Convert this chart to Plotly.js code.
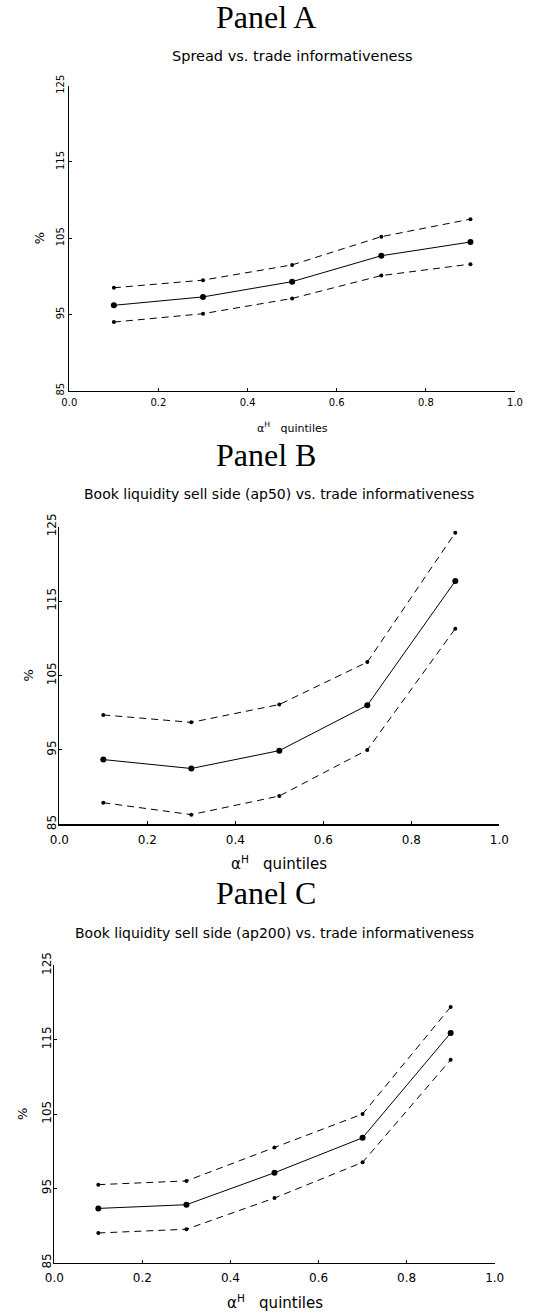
<!DOCTYPE html>
<html>
<head>
<meta charset="utf-8">
<script src="https://cdn.plot.ly/plotly-3.0.1.min.js"></script>
<style>html,body{margin:0;padding:0;background:#fff;}</style>
</head>
<body>
<div id="chart" style="width:539px;height:1313px;"></div>
<script>
// ---- data ----
var quintiles = [0.1, 0.3, 0.5, 0.7, 0.9];
var xTickVals = [0, 0.2, 0.4, 0.6, 0.8, 1.0];
var yTickVals = [85, 95, 105, 115, 125];

var panelTitles = ["Panel A", "Panel B", "Panel C"];
var subTitles = [
  "Spread vs. trade informativeness",
  "Book liquidity sell side (ap50) vs. trade informativeness",
  "Book liquidity sell side (ap200) vs. trade informativeness"
];

var spreadMid   = [96.2, 97.3, 99.3, 102.7, 104.5];
var spreadUpper = [98.5, 99.5, 101.5, 105.2, 107.5];
var spreadLower = [94.0, 95.1, 97.1, 100.1, 101.6];

var ap50Mid   = [93.7, 92.5, 94.9, 101.0, 117.7];
var ap50Upper = [99.7, 98.7, 101.1, 106.8, 124.2];
var ap50Lower = [87.9, 86.3, 88.8, 95.0, 111.3];

var ap200Mid   = [92.3, 92.8, 97.1, 101.8, 115.9];
var ap200Upper = [95.5, 96.0, 100.5, 105.0, 119.4];
var ap200Lower = [89.0, 89.5, 93.7, 98.5, 112.3];

var panelSeries = [
  [spreadMid, spreadUpper, spreadLower],
  [ap50Mid, ap50Upper, ap50Lower],
  [ap200Mid, ap200Upper, ap200Lower]
];

// ---- layout geometry (pixels) ----
var W = 539, H = 1313;
var boxes = [
  {l: 69.3, r: 515.0, t: 85.7,  b: 390.7, tickSize: 10, xStand: 2, yStand: 0,  titleY: 17,  subY: 56,  xtY: 427,  ylX: 39,  subSize: 14.5, xtSize: 11},
  {l: 59.3, r: 499.3, t: 526.7, b: 824.3, tickSize: 12, xStand: 4, yStand: -3, titleY: 455, subY: 494, xtY: 863,  ylX: 28,  subSize: 14,   xtSize: 15},
  {l: 54.3, r: 494.7, t: 965.3, b: 1262.7, tickSize: 12, xStand: 3, yStand: -3, titleY: 893, subY: 933, xtY: 1302, ylX: 22, subSize: 14,   xtSize: 15}
];

var sansFont = "DejaVu Sans, Liberation Sans, sans-serif";
var serifFont = "Liberation Serif, DejaVu Serif, serif";

var traces = [];
var layout = {
  width: W, height: H,
  margin: {l: 0, r: 0, t: 0, b: 0},
  paper_bgcolor: "#fff",
  plot_bgcolor: "#fff",
  showlegend: false,
  annotations: []
};

function py(p) { return 1 - p / H; }
function px(p) { return p / W; }

boxes.forEach(function (bx, i) {
  var n = i + 1;
  var xa = "x" + (n === 1 ? "" : n);
  var ya = "y" + (n === 1 ? "" : n);
  var s = panelSeries[i];

  traces.push({
    x: quintiles, y: s[0], xaxis: xa, yaxis: ya, type: "scatter", mode: "lines+markers",
    line: {color: "#000", width: 1}, marker: {color: "#000", size: 6}, cliponaxis: false
  });
  traces.push({
    x: quintiles, y: s[1], xaxis: xa, yaxis: ya, type: "scatter", mode: "lines+markers",
    line: {color: "#000", width: 1, dash: "7px,5px"}, marker: {color: "#000", size: 4}, cliponaxis: false
  });
  traces.push({
    x: quintiles, y: s[2], xaxis: xa, yaxis: ya, type: "scatter", mode: "lines+markers",
    line: {color: "#000", width: 1, dash: "7px,5px"}, marker: {color: "#000", size: 4}, cliponaxis: false
  });

  var xkey = "xaxis" + (n === 1 ? "" : n);
  var ykey = "yaxis" + (n === 1 ? "" : n);
  layout[xkey] = {
    domain: [px(bx.l), px(bx.r)],
    anchor: ya,
    range: [0, 1],
    tickvals: xTickVals,
    ticktext: xTickVals.map(function (v) { return v.toFixed(1); }),
    ticks: "inside", ticklen: 3, tickwidth: 1, tickcolor: "#000",
    ticklabelstandoff: bx.xStand,
    showline: true, linecolor: "#000", linewidth: 1.6,
    showgrid: false, zeroline: false,
    tickfont: {family: sansFont, size: bx.tickSize, color: "#000"},
    fixedrange: true
  };
  layout[ykey] = {
    domain: [py(bx.b), py(bx.t)],
    anchor: xa,
    range: [85, 125],
    tickvals: yTickVals,
    ticktext: yTickVals.map(String),
    tickangle: -90,
    ticks: "inside", ticklen: 3, tickwidth: 1, tickcolor: "#000",
    ticklabelstandoff: bx.yStand,
    showline: true, linecolor: "#000", linewidth: 1.6,
    showgrid: false, zeroline: false,
    tickfont: {family: sansFont, size: bx.tickSize, color: "#000"},
    fixedrange: true
  };

  var cx = (bx.l + bx.r) / 2;
  layout.annotations.push({
    text: panelTitles[i], xref: "paper", yref: "paper",
    x: px(266), y: py(bx.titleY), xanchor: "center", yanchor: "middle",
    showarrow: false, font: {family: serifFont, size: 32, color: "#000"}
  });
  layout.annotations.push({
    text: subTitles[i], xref: "paper", yref: "paper",
    x: px(cx), y: py(bx.subY), xanchor: "center", yanchor: "middle",
    showarrow: false, font: {family: sansFont, size: bx.subSize, color: "#000"}
  });
  layout.annotations.push({
    text: "\u03B1<sup>H</sup>   quintiles", xref: "paper", yref: "paper",
    x: px(cx), y: py(bx.xtY), xanchor: "center", yanchor: "middle",
    showarrow: false, font: {family: sansFont, size: bx.xtSize, color: "#000"}
  });
  layout.annotations.push({
    text: "%", xref: "paper", yref: "paper",
    x: px(bx.ylX), y: py((bx.t + bx.b) / 2), xanchor: "center", yanchor: "middle",
    textangle: -90,
    showarrow: false, font: {family: sansFont, size: 13, color: "#000"}
  });
});

Plotly.newPlot("chart", traces, layout, {staticPlot: true, displayModeBar: false});
</script>
</body>
</html>
